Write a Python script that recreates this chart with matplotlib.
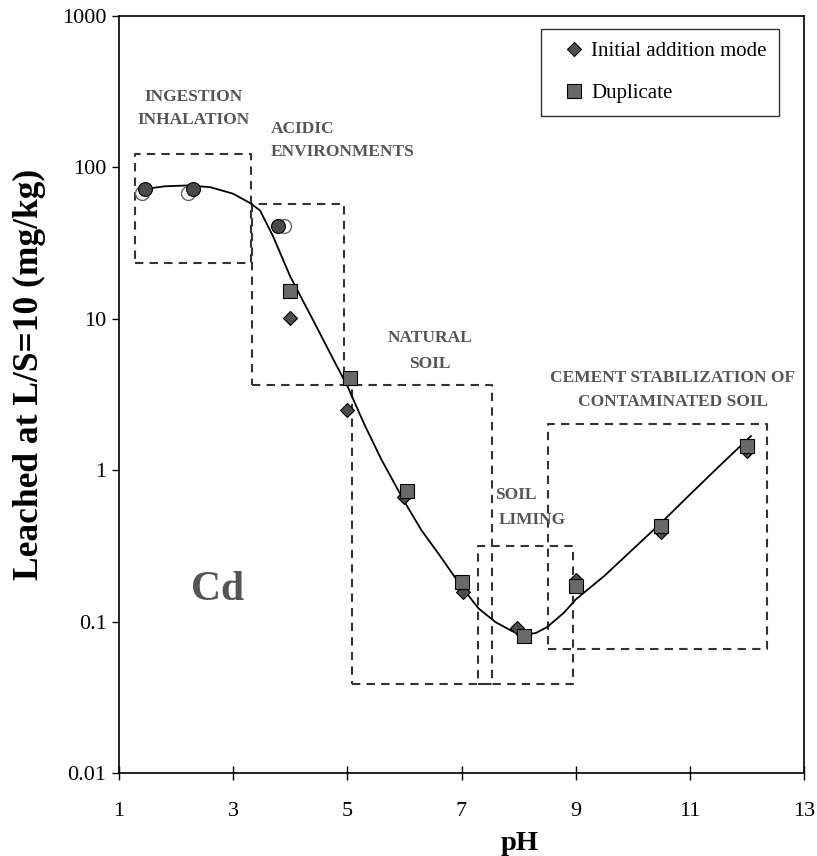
import numpy as np
import matplotlib.pyplot as plt

# Cd leached at L/S=10 vs pH
ph_init = [4.0, 5.0, 6.0, 7.03, 7.97, 9.0, 10.5, 12.0]
cd_init = [10.1, 2.5, 0.665, 0.157, 0.091, 0.188, 0.39, 1.34]

ph_dup = [4.0, 5.05, 6.05, 7.0, 8.09, 9.0, 10.5, 12.0]
cd_dup = [15.3, 4.06, 0.73, 0.183, 0.080, 0.172, 0.43, 1.45]

# low pH points (filled and open circles)
ph_circ = [1.45, 2.3, 3.79]
cd_circ = [72, 72, 41]
ph_circ_open = [1.40, 2.21, 3.89]
cd_circ_open = [68, 68, 41]

# fitted trend line
ph_fit = [1.45, 1.8, 2.2, 2.6, 3.0, 3.3, 3.47, 3.7, 4.0, 4.4, 4.8, 5.0,
          5.3, 5.6, 6.0, 6.3, 6.6, 7.0, 7.3, 7.6, 7.9, 8.1, 8.3, 8.5,
          8.8, 9.0, 9.5, 10.0, 10.5, 11.0, 11.5, 12.07]
cd_fit = [72, 75, 76, 74, 67, 58, 52, 35, 19, 9.8, 5.0, 3.6,
          2.0, 1.17, 0.62, 0.40, 0.28, 0.17, 0.122, 0.099, 0.086, 0.082, 0.084, 0.092,
          0.115, 0.14, 0.20, 0.30, 0.45, 0.69, 1.05, 1.68]

# exposure scenario boxes: (pH min, pH max, min, max)
boxes = {
    'ingestion': (1.28, 3.31, 23.4, 122),
    'acidic': (3.33, 4.94, 3.66, 57),
    'natural': (5.08, 7.53, 0.039, 3.66),
    'liming': (7.29, 8.95, 0.039, 0.316),
    'cement': (8.51, 12.36, 0.066, 2.02),
}

plt.rcParams['font.family'] = ['Liberation Serif', 'DejaVu Serif']

fig = plt.figure(figsize=(8.17, 8.56), dpi=100)
ax = fig.add_axes([119 / 817, 1 - 773 / 856, 685 / 817, 757 / 856])
ax.set_yscale('log')

for key, (x0, x1, y0, y1) in boxes.items():
    ax.plot([x0, x1, x1, x0, x0], [y0, y0, y1, y1, y0], color='#333333',
            lw=1.5, ls=(0, (4, 3)), zorder=1)

ax.plot(ph_fit, cd_fit, color='black', lw=1.3, zorder=2)

ax.plot(ph_circ_open, cd_circ_open, 'o', ms=10, mfc='white', mec='#666666',
        mew=1.0, zorder=3)
ax.plot(ph_circ, cd_circ, 'o', ms=10, mfc='#4a4a4a', mec='black',
        mew=0.8, zorder=4)
ax.plot(ph_init, cd_init, 'D', ms=7.5, mfc='#4d4d4d', mec='black',
        mew=0.8, zorder=5, label='Initial addition mode')
ax.plot(ph_dup, cd_dup, 's', ms=9.5, mfc='#696969', mec='black',
        mew=0.8, zorder=6, label='Duplicate')

# scenario labels
tkw = dict(color='#555555', fontweight='bold', fontsize=12.5, zorder=7)
ax.text(2.30, 292, 'INGESTION', ha='center', va='center', **tkw)
ax.text(2.30, 206, 'INHALATION', ha='center', va='center', **tkw)
ax.text(3.66, 179, 'ACIDIC', ha='left', va='center', **tkw)
ax.text(3.66, 126, 'ENVIRONMENTS', ha='left', va='center', **tkw)
ax.text(6.45, 7.46, 'NATURAL', ha='center', va='center', **tkw)
ax.text(6.45, 5.02, 'SOIL', ha='center', va='center', **tkw)
ax.text(7.585, 0.685, 'SOIL', ha='left', va='center', **tkw)
ax.text(7.655, 0.469, 'LIMING', ha='left', va='center', **tkw)
ax.text(10.70, 4.06, 'CEMENT STABILIZATION OF', ha='center', va='center', **tkw)
ax.text(10.70, 2.82, 'CONTAMINATED SOIL', ha='center', va='center', **tkw)
ax.text(2.73, 0.162, 'Cd', ha='center', va='center', color='#555555',
        fontweight='bold', fontsize=30)

ax.set_xlim(1, 13)
ax.set_ylim(0.01, 1000)
ax.set_xticks([1, 3, 5, 7, 9, 11, 13])
ax.set_yticks([0.01, 0.1, 1, 10, 100, 1000])
ax.set_yticklabels(['0.01', '0.1', '1', '10', '100', '1000'])
ax.minorticks_off()
ax.tick_params(axis='x', direction='inout', length=10, width=1, labelsize=16, pad=16)
ax.tick_params(axis='y', direction='out', length=5, width=1, labelsize=16, pad=4)
for sp in ax.spines.values():
    sp.set_linewidth(1.2)

ax.set_xlabel('pH', fontsize=20.5, fontweight='bold')
ax.xaxis.set_label_coords(0.585, -0.076)
ax.set_ylabel('Leached at L/S=10 (mg/kg)', fontsize=25.5, fontweight='bold')
ax.yaxis.set_label_coords(-0.106, 0.527)

leg = ax.legend(loc='upper right', bbox_to_anchor=(0.9635, 0.983),
                borderaxespad=0, fontsize=15, frameon=True, fancybox=False,
                handletextpad=-0.2, labelspacing=1.09, handlelength=2.0,
                borderpad=0.6)
leg.get_frame().set_edgecolor('black')
leg.get_frame().set_linewidth(1.0)

fig.savefig('out.png', dpi=100)
